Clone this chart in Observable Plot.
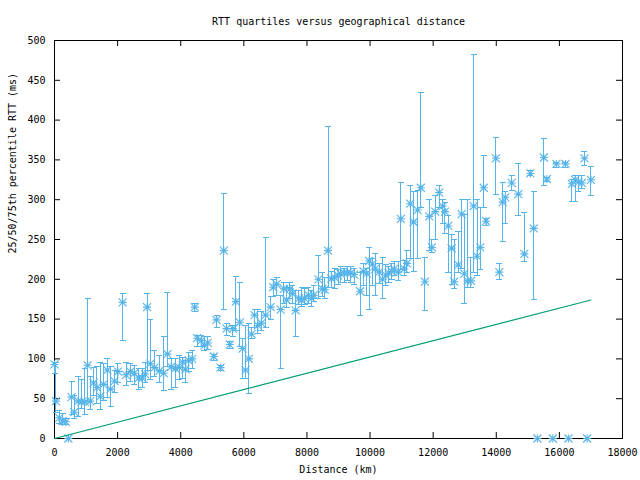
<!DOCTYPE html>
<html>
<head>
<meta charset="utf-8">
<script src="https://cdn.jsdelivr.net/npm/d3@7"></script>
<script src="https://cdn.jsdelivr.net/npm/@observablehq/plot@0.6"></script>
<style>
  html, body { margin: 0; padding: 0; background: #fff; }
</style>
</head>
<body>
<div id="chart"></div>
<script>
const title = "RTT quartiles versus geographical distance";
const xLabel = "Distance (km)";
const yLabel = "25/50/75th percentile RTT (ms)";
const xTicks = [0, 2000, 4000, 6000, 8000, 10000, 12000, 14000, 16000, 18000];
const yTicks = [0, 50, 100, 150, 200, 250, 300, 350, 400, 450, 500];

const distance = [0, 44, 150, 254, 362, 440, 540, 625, 752, 857, 965, 1048, 1133, 1238, 1346, 1451, 1556, 1673, 1778, 1905, 2012, 2160, 2267, 2403, 2530, 2667, 2780, 2870, 2934, 3039, 3166, 3324, 3461, 3578, 3696, 3823, 3960, 4065, 4150, 4255, 4362, 4445, 4520, 4648, 4753, 4858, 5048, 5134, 5261, 5366, 5452, 5556, 5652, 5747, 5874, 5960, 6055, 6160, 6245, 6340, 6445, 6553, 6690, 6849, 6934, 7040, 7166, 7271, 7356, 7461, 7537, 7642, 7747, 7833, 7928, 8045, 8141, 8223, 8363, 8490, 8563, 8668, 8776, 8880, 8985, 9071, 9176, 9283, 9388, 9493, 9684, 9792, 9897, 9970, 10077, 10160, 10287, 10395, 10500, 10585, 10681, 10763, 10890, 10976, 11081, 11167, 11272, 11380, 11507, 11610, 11738, 11875, 11960, 12065, 12192, 12300, 12373, 12478, 12586, 12668, 12795, 12903, 12986, 13094, 13198, 13284, 13390, 13494, 13602, 13675, 13988, 14097, 14205, 14288, 14490, 14700, 14890, 15081, 15189, 15303, 15507, 15602, 15792, 15907, 16193, 16288, 16395, 16500, 16605, 16712, 16795, 16880, 17000];
const median = [93, 47, 26, 22, 21, 0, 52, 33, 47, 46, 46, 92, 47, 70, 64, 53, 68, 86, 62, 72, 84, 171, 80, 84, 82, 76, 76, 81, 165, 94, 89, 85, 82, 106, 90, 88, 89, 96, 87, 98, 100, 165, 126, 123, 117, 120, 103, 149, 89, 236, 138, 118, 138, 172, 146, 113, 86, 100, 131, 155, 142, 145, 155, 165, 190, 194, 162, 188, 174, 188, 182, 161, 176, 174, 176, 180, 176, 180, 200, 188, 187, 236, 201, 202, 205, 207, 208, 208, 208, 206, 185, 210, 207, 223, 219, 213, 209, 200, 205, 208, 210, 213, 209, 276, 213, 220, 295, 272, 287, 315, 197, 279, 240, 285, 309, 292, 285, 267, 239, 197, 218, 282, 207, 198, 198, 292, 229, 240, 315, 273, 352, 209, 297, 303, 321, 307, 232, 333, 264, 0, 353, 326, 0, 345, 345, 0, 320, 325, 322, 321, 352, 0, 325];
const q25 = [82, 33, 19, 18, 18, 0, 30, 25, 28, 38, 30, 46, 36, 54, 44, 36, 48, 52, 40, 58, 70, 123, 66, 72, 68, 62, 64, 70, 86, 74, 78, 70, 60, 90, 62, 64, 74, 76, 70, 84, 88, 160, 116, 116, 110, 112, 98, 140, 86, 162, 130, 113, 128, 136, 116, 76, 76, 57, 126, 140, 132, 136, 140, 150, 178, 180, 88, 170, 164, 176, 170, 128, 168, 166, 168, 170, 166, 172, 176, 178, 176, 190, 190, 188, 194, 196, 196, 198, 196, 194, 154, 192, 180, 162, 192, 180, 195, 176, 192, 196, 200, 205, 198, 212, 205, 208, 226, 210, 226, 290, 161, 236, 234, 250, 290, 270, 258, 208, 194, 188, 208, 214, 170, 190, 190, 208, 205, 212, 290, 268, 306, 200, 248, 270, 312, 280, 222, 330, 174, 0, 318, 323, 0, 341, 341, 0, 298, 298, 310, 314, 343, 0, 305];
const q75 = [96, 96, 35, 31, 25, 0, 72, 54, 78, 74, 88, 176, 78, 89, 90, 95, 94, 100, 90, 86, 94, 182, 96, 94, 92, 88, 88, 96, 182, 150, 110, 104, 128, 184, 100, 100, 104, 102, 98, 108, 110, 170, 130, 130, 128, 128, 106, 155, 92, 308, 145, 122, 142, 203, 196, 126, 142, 145, 140, 162, 162, 160, 252, 178, 200, 202, 180, 196, 190, 196, 192, 186, 186, 190, 188, 190, 186, 192, 230, 208, 202, 392, 210, 214, 212, 216, 214, 216, 216, 214, 209, 220, 214, 240, 226, 232, 220, 228, 218, 216, 220, 222, 222, 322, 224, 236, 318, 310, 312, 435, 228, 300, 250, 305, 318, 300, 296, 280, 256, 250, 260, 300, 282, 300, 228, 483, 300, 290, 355, 276, 378, 220, 321, 310, 330, 345, 284, 337, 310, 0, 377, 328, 0, 347, 347, 0, 325, 330, 330, 330, 361, 0, 342];

const refDistance = [0, 17000];
const refRtt = [0, 174];

const rows = distance.map((d, i) => ({d, med: median[i], lo: q25[i], hi: q75[i]}));
const refRows = refDistance.map((d, i) => ({d, y: refRtt[i]}));

const W = 640, H = 480;
const mL = 54, mR = 18, mT = 40, mB = 42;
const fw = W - mL - mR, fh = H - mT - mB;
const blue = "#56b4e9", green = "#009e73";

const star = {
  draw(ctx, size) {
    const r = Math.sqrt(size / Math.PI);
    ctx.moveTo(-r, 0); ctx.lineTo(r, 0);
    ctx.moveTo(0, -r); ctx.lineTo(0, r);
    ctx.moveTo(-r, -r); ctx.lineTo(r, r);
    ctx.moveTo(-r, r); ctx.lineTo(r, -r);
  }
};
const cap = {
  draw(ctx, size) {
    const r = Math.sqrt(size / Math.PI);
    ctx.moveTo(-r, 0); ctx.lineTo(r, 0);
  }
};

const chart = Plot.plot({
  width: W, height: H,
  marginLeft: mL, marginRight: mR, marginTop: mT, marginBottom: mB,
  style: {fontFamily: "'DejaVu Sans Mono', monospace", fontSize: "10px", background: "white", color: "black"},
  x: {domain: [0, 18000]},
  y: {domain: [0, 500]},
  marks: [
    Plot.frame({stroke: "black"}),
    Plot.ruleX(xTicks, {x: d => d, insetTop: fh - 6, stroke: "black"}),
    Plot.ruleX(xTicks, {x: d => d, insetBottom: fh - 6, stroke: "black"}),
    Plot.ruleY(yTicks, {y: d => d, insetRight: fw - 6, stroke: "black"}),
    Plot.ruleY(yTicks, {y: d => d, insetLeft: fw - 6, stroke: "black"}),
    Plot.axisX({ticks: xTicks, tickSize: 0, tickPadding: 10, label: null, tickFormat: d => String(d)}),
    Plot.axisY({ticks: yTicks, tickSize: 0, tickPadding: 9, label: null, tickFormat: d => String(d)}),
    Plot.ruleX(rows, {x: "d", y1: "lo", y2: "hi", stroke: blue, strokeWidth: 1, shapeRendering: "crispEdges"}),
    Plot.dot(rows, {x: "d", y: "lo", symbol: cap, r: 3, stroke: blue, fill: "none", strokeWidth: 1, shapeRendering: "crispEdges"}),
    Plot.dot(rows, {x: "d", y: "hi", symbol: cap, r: 3, stroke: blue, fill: "none", strokeWidth: 1, shapeRendering: "crispEdges"}),
    Plot.dot(rows, {x: "d", y: "med", symbol: star, r: 4, stroke: blue, fill: "none", strokeWidth: 1.1}),
    Plot.line(refRows, {x: "d", y: "y", stroke: green, strokeWidth: 1.2}),
    Plot.text([title], {text: d => d, frameAnchor: "top", dy: -23, fill: "black"}),
    Plot.text([xLabel], {text: d => d, frameAnchor: "bottom", dy: 34, fill: "black"}),
    Plot.text([yLabel], {text: d => d, frameAnchor: "left", dx: -42, dy: 14, rotate: -90, fill: "black"})
  ]
});
document.getElementById("chart").appendChild(chart);
</script>
</body>
</html>
